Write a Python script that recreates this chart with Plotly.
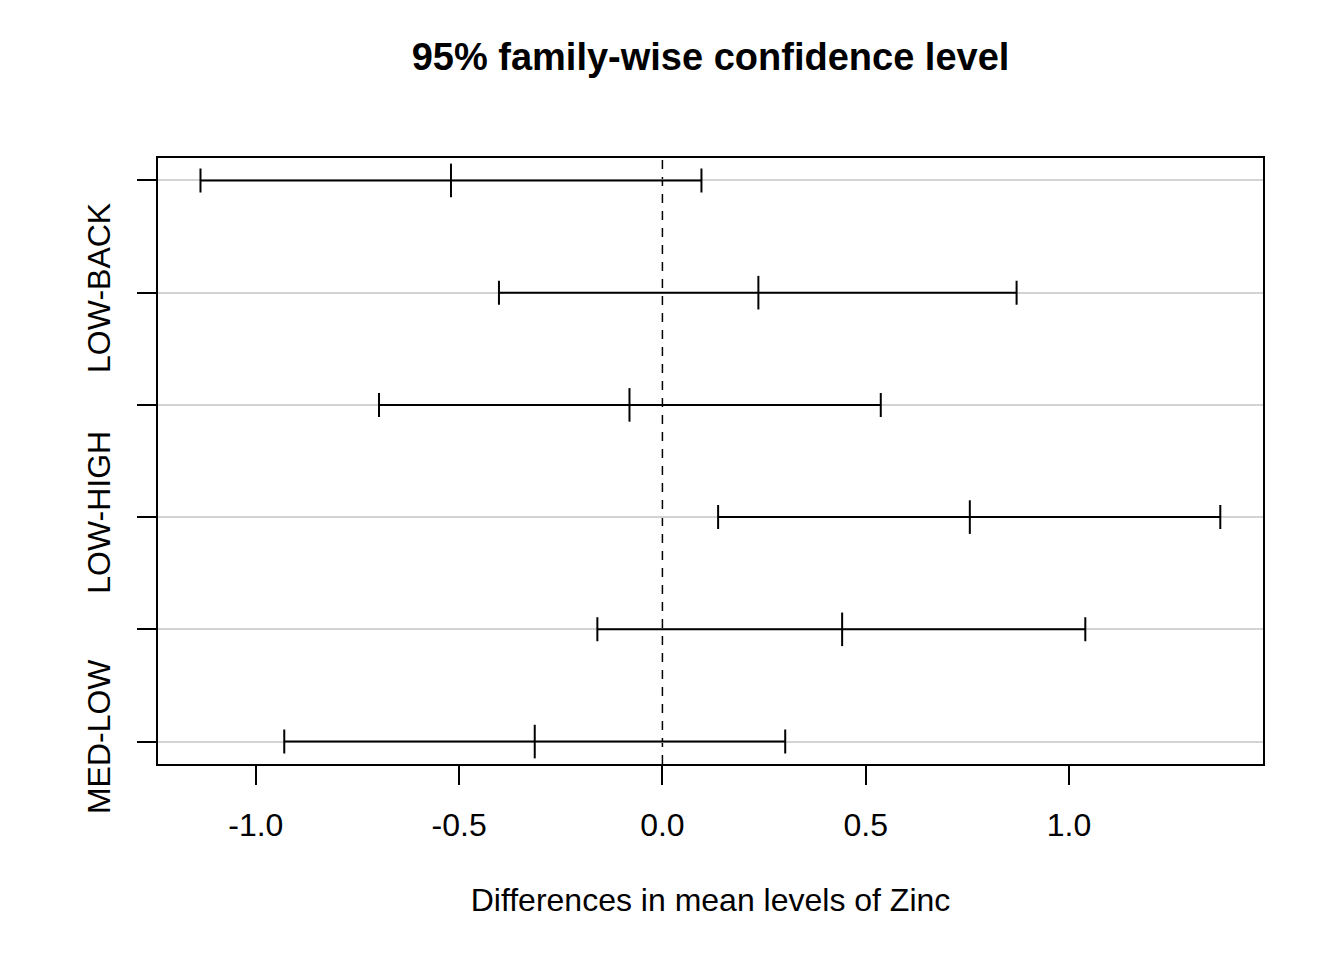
import plotly.graph_objects as go

comparisons = ["HIGH-BACK", "LOW-BACK", "MED-BACK", "LOW-HIGH", "MED-HIGH", "MED-LOW"]
shown_labels = ["", "LOW-BACK", "", "LOW-HIGH", "", "MED-LOW"]
diff = [-0.520, 0.236, -0.081, 0.756, 0.442, -0.314]
lwr = [-1.136, -0.402, -0.697, 0.137, -0.160, -0.930]
upr = [0.096, 0.871, 0.537, 1.372, 1.040, 0.302]
x_tick_vals = [-1.0, -0.5, 0.0, 0.5, 1.0]
x_tick_text = ["-1.0", "-0.5", "0.0", "0.5", "1.0"]

n = len(comparisons)
ypos = [n - i for i in range(n)]

FONT = "Liberation Sans, Arial, Helvetica, sans-serif"

fig = go.Figure()
fig.add_trace(go.Scatter(
    x=diff, y=ypos, mode="markers",
    marker=dict(symbol="line-ns", size=24, color="black",
                line=dict(width=2, color="black")),
    error_x=dict(type="data", symmetric=False,
                 array=[u - d for u, d in zip(upr, diff)],
                 arrayminus=[d - l for d, l in zip(diff, lwr)],
                 color="black", thickness=2, width=12),
    showlegend=False, hoverinfo="skip",
))

fig.add_shape(type="line", xref="x", yref="paper", x0=0, x1=0, y0=0, y1=1,
              line=dict(color="black", width=1.5, dash="9px,8px"), layer="below")

fig.update_layout(
    width=1344, height=960,
    paper_bgcolor="white", plot_bgcolor="white",
    margin=dict(l=150, r=89, t=150, b=204),
    font=dict(family=FONT, size=32, color="black"),
    title=dict(text="<b>95% family-wise confidence level</b>",
               font=dict(family=FONT, size=38, color="black"),
               x=0.5, xref="paper", xanchor="center",
               y=1 - 49 / 960, yref="container", yanchor="middle"),
    xaxis=dict(range=[-1.2405, 1.477], tickvals=x_tick_vals, ticktext=x_tick_text,
               showgrid=False, zeroline=False, showline=True, linecolor="black",
               linewidth=2, mirror=True, ticks="outside", ticklen=19, tickwidth=2,
               tickcolor="black", ticklabelstandoff=13,
               title=dict(text="Differences in mean levels of Zinc",
                          font=dict(family=FONT, size=32), standoff=46)),
    yaxis=dict(range=[0.8, 6.2], tickvals=ypos, ticktext=shown_labels,
               tickangle=-90, showgrid=True, gridcolor="#d3d3d3", gridwidth=1.5,
               zeroline=False, showline=True, linecolor="black", linewidth=2,
               mirror=True, ticks="outside", ticklen=19, tickwidth=2,
               tickcolor="black", ticklabelstandoff=14),
)

fig.write_html("out.html")
